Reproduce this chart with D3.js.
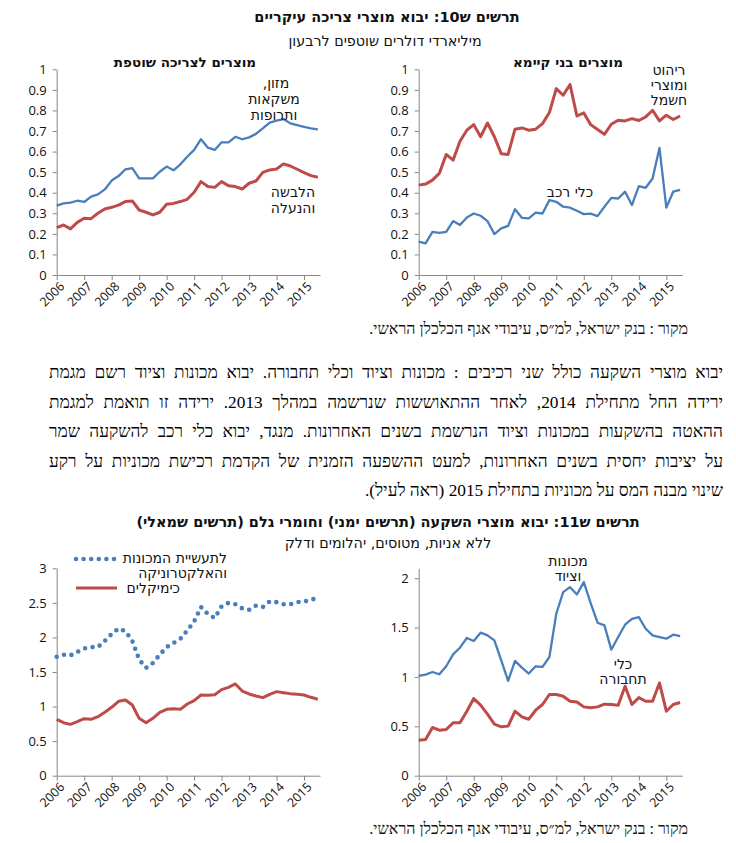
<!DOCTYPE html>
<html><head><meta charset="utf-8">
<script src="https://cdn.jsdelivr.net/npm/d3@7"></script>
<style>
body{margin:0;background:#fff;}
svg{position:absolute;left:0;top:0;}
#para{position:absolute;left:49px;top:358px;width:674px;direction:rtl;font:17.3px "Liberation Serif",serif;line-height:29.5px;color:#000}
#para div{text-align:justify;text-align-last:justify;white-space:nowrap}
#para div.last{text-align-last:right}
</style></head><body>
<script>
// quarterly, 2006Q1 .. 2015Q3
const quarters=d3.range(39).map(i=>2006+i/4);
const years=d3.range(2006,2016);

// chart 10, left: consumer goods for current use
const foodDrinkPharma=[0.337,0.348,0.352,0.361,0.355,0.381,0.392,0.416,0.459,0.481,0.514,0.520,0.470,0.470,0.470,0.502,0.527,0.509,0.538,0.575,0.608,0.660,0.619,0.608,0.645,0.645,0.672,0.660,0.669,0.686,0.713,0.741,0.750,0.758,0.737,0.729,0.720,0.713,0.708];
const clothingShoes=[0.230,0.243,0.224,0.256,0.276,0.274,0.300,0.321,0.329,0.340,0.357,0.360,0.316,0.305,0.292,0.305,0.344,0.348,0.357,0.368,0.402,0.454,0.430,0.426,0.454,0.434,0.430,0.418,0.446,0.457,0.499,0.511,0.515,0.540,0.530,0.514,0.498,0.483,0.475];
// chart 10, right: durable goods
const furnitureElectric=[0.437,0.442,0.461,0.494,0.586,0.558,0.650,0.704,0.731,0.672,0.739,0.672,0.590,0.586,0.709,0.715,0.704,0.709,0.736,0.790,0.906,0.874,0.926,0.773,0.788,0.731,0.707,0.684,0.733,0.752,0.749,0.760,0.751,0.769,0.801,0.749,0.777,0.756,0.773];
const vehicles=[0.162,0.154,0.210,0.205,0.210,0.262,0.243,0.280,0.299,0.288,0.262,0.199,0.227,0.239,0.320,0.278,0.275,0.303,0.299,0.364,0.356,0.332,0.327,0.312,0.296,0.298,0.286,0.332,0.375,0.372,0.405,0.340,0.432,0.424,0.469,0.618,0.328,0.405,0.414];
// chart 11, left: raw materials
const machineryElectronics=[1.72,1.75,1.74,1.79,1.84,1.86,1.86,1.95,2.05,2.13,2.09,1.95,1.68,1.56,1.63,1.75,1.86,1.92,1.98,2.10,2.23,2.44,2.34,2.28,2.45,2.50,2.48,2.42,2.40,2.46,2.44,2.52,2.51,2.48,2.48,2.51,2.52,2.54,2.58];
const chemicals=[0.815,0.767,0.743,0.781,0.825,0.815,0.854,0.917,0.989,1.076,1.095,1.023,0.830,0.767,0.830,0.917,0.960,0.970,0.960,1.037,1.085,1.167,1.163,1.172,1.245,1.278,1.327,1.225,1.182,1.153,1.129,1.177,1.216,1.201,1.187,1.177,1.167,1.134,1.105];
// chart 11, right: investment goods
const machineryEquipment=[1.010,1.024,1.050,1.027,1.108,1.229,1.296,1.394,1.364,1.448,1.421,1.370,1.168,0.960,1.162,1.094,1.034,1.108,1.101,1.202,1.640,1.859,1.909,1.835,1.960,1.747,1.549,1.522,1.276,1.404,1.529,1.589,1.606,1.488,1.421,1.404,1.387,1.428,1.414];
const transportVehicles=[0.360,0.367,0.488,0.461,0.468,0.535,0.535,0.653,0.781,0.714,0.623,0.522,0.495,0.502,0.653,0.596,0.572,0.663,0.721,0.822,0.822,0.805,0.754,0.747,0.697,0.687,0.697,0.724,0.721,0.714,0.906,0.721,0.791,0.754,0.754,0.939,0.653,0.721,0.741];

const ticks1=[0,0.1,0.2,0.3,0.4,0.5,0.6,0.7,0.8,0.9,1];
const ticks3=[0,0.5,1,1.5,2,2.5,3];
const ticks4=[0,0.5,1,1.5,2];

const paragraph=[
"יבוא מוצרי השקעה כולל שני רכיבים : מכונות וציוד וכלי תחבורה. יבוא מכונות וציוד רשם מגמת",
"ירידה החל מתחילת 2014, לאחר ההתאוששות שנרשמה במהלך 2013. ירידה זו תואמת למגמת",
"ההאטה בהשקעות במכונות וציוד הנרשמת בשנים האחרונות. מנגד, יבוא כלי רכב להשקעה שמר",
"על יציבות יחסית בשנים האחרונות, למעט ההשפעה הזמנית של הקדמת רכישת מכוניות על רקע",
"שינוי מבנה המס על מכוניות בתחילת 2015 (ראה לעיל)."];

const BLUE="#4a7ebb",RED="#be4b48",AX="#868686";
const heb='"DejaVu Sans","Noto Sans",sans-serif';
const num='"Open Sans","Liberation Sans",sans-serif';
const serif='"Liberation Serif",serif';

const svg=d3.select("body").append("svg").attr("width",736).attr("height",843);
d3.select("body").append("div").attr("id","para")
  .selectAll("div").data(paragraph).join("div")
  .attr("class",(d,i)=>i===paragraph.length-1?"last":null)
  .text(d=>d);

function text(x,y,s,o={}){
  svg.append("text").attr("x",x).attr("y",y).attr("direction","rtl")
    .attr("text-anchor",o.anchor||"middle")
    .style("font-family",o.font||heb).style("font-size",(o.size||13.5)+"px")
    .style("font-weight",o.bold?"bold":"normal").attr("fill","#111")
    .text(s);
}

function panel(o){
  const x=d3.scaleLinear().domain([2006,2015.58]).range([o.x0,o.x1]);
  const y=d3.scaleLinear().domain([0,o.ymax]).range([o.yb,o.yt]);
  const g=svg.append("g");
  const ya=g.append("g").attr("transform",`translate(${o.x0},0)`)
    .call(d3.axisLeft(y).tickValues(o.ticks).tickSize(4).tickSizeOuter(0).tickFormat(d3.format("~g")));
  ya.selectAll("text").attr("x",-10).style("font-family",num).style("font-size","13px").attr("fill","#111");
  const xa=g.append("g").attr("transform",`translate(0,${o.yb})`)
    .call(d3.axisBottom(x).tickValues(years).tickSize(5).tickSizeOuter(0).tickFormat(d3.format("d")));
  xa.selectAll("text").attr("x",0).attr("y",0).attr("dy","0.35em")
    .attr("text-anchor","end").attr("transform","translate(5,9) rotate(-45)")
    .style("font-family",num).style("font-size","12.5px").attr("fill","#111");
  g.selectAll(".domain, .tick line").attr("stroke",AX);
  const line=d3.line().x((d,i)=>x(quarters[i])).y(d=>y(d));
  o.series.forEach(s=>{
    const p=g.append("path").datum(s.values).attr("d",line).attr("fill","none")
      .attr("stroke",s.color).attr("stroke-width",s.width).attr("stroke-linejoin","round");
    if(s.dotted) p.attr("stroke-dasharray","0,7.6").attr("stroke-linecap","round");
  });
}

// chart 10
text(387,22,"תרשים ש10: יבוא מוצרי צריכה עיקריים",{bold:true,size:14.5});
text(385,46,"מיליארדי דולרים שוטפים לרבעון",{size:14.3});
text(185,67,"מוצרים לצריכה שוטפת",{bold:true,size:13.5});
text(568,67,"מוצרים בני קיימא",{bold:true,size:13.5});

panel({x0:56.7,x1:320,yt:69.3,yb:275,ymax:1,ticks:ticks1,series:[
  {values:foodDrinkPharma,color:BLUE,width:2.3},
  {values:clothingShoes,color:RED,width:3}]});
panel({x0:418.7,x1:682.3,yt:69.3,yb:275,ymax:1,ticks:ticks1,series:[
  {values:furnitureElectric,color:RED,width:3},
  {values:vehicles,color:BLUE,width:2.3}]});

text(276,88,"מזון,",{size:14});
text(274,104,"משקאות",{size:14});
text(274,120,"ותרופות",{size:14});
text(293,197,"הלבשה",{size:14});
text(293,213,"והנעלה",{size:14});
text(669,75,"ריהוט",{size:14});
text(669,90,"ומוצרי",{size:14});
text(669,105,"חשמל",{size:14});
text(570,197,"כלי רכב",{size:14});
text(688,334,"מקור : בנק ישראל, למ״ס, עיבודי אגף הכלכלן הראשי.",{anchor:"start",size:16,font:serif});

// chart 11
text(388,527,"תרשים ש11: יבוא מוצרי השקעה (תרשים ימני) וחומרי גלם (תרשים שמאלי)",{bold:true,size:14.5});
text(388,548,"ללא אניות, מטוסים, יהלומים ודלק",{size:14.3});

panel({x0:56.7,x1:320,yt:568.3,yb:775.7,ymax:3,ticks:ticks3,series:[
  {values:chemicals,color:RED,width:3},
  {values:machineryElectronics,color:BLUE,width:4.6,dotted:true}]});
panel({x0:418.7,x1:682.3,yt:568.3,yb:775.7,ymax:2.1,ticks:ticks4,series:[
  {values:machineryEquipment,color:BLUE,width:2.3},
  {values:transportVehicles,color:RED,width:3}]});

// legend of the left chart 11
svg.append("line").attr("x1",76).attr("x2",115).attr("y1",559).attr("y2",559)
  .attr("stroke",BLUE).attr("stroke-width",4.6).attr("stroke-dasharray","0,7.6").attr("stroke-linecap","round");
svg.append("line").attr("x1",76).attr("x2",117).attr("y1",588).attr("y2",588)
  .attr("stroke",RED).attr("stroke-width",3);
text(227,563,"לתעשיית המכונות",{anchor:"start",size:14});
text(227,578,"והאלקטרוניקה",{anchor:"start",size:14});
text(180,593,"כימיקלים",{anchor:"start",size:14});

text(568,566,"מכונות",{size:14});
text(568,581,"וציוד",{size:14});
text(623,669,"כלי",{size:14});
text(623,684,"תחבורה",{size:14});
text(688,834,"מקור : בנק ישראל, למ״ס, עיבודי אגף הכלכלן הראשי.",{anchor:"start",size:16,font:serif});
</script>
</body></html>
